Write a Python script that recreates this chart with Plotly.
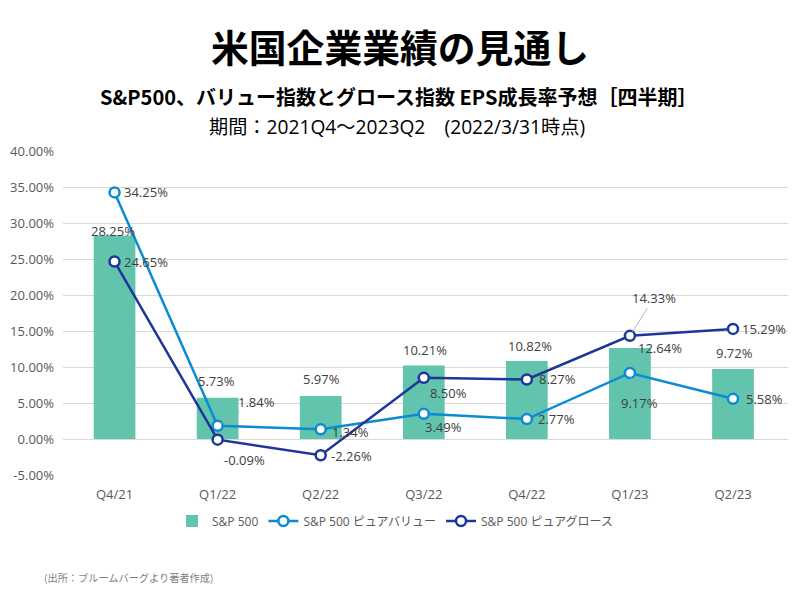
import plotly.graph_objects as go

categories = ["Q4/21", "Q1/22", "Q2/22", "Q3/22", "Q4/22", "Q1/23", "Q2/23"]
sp500 = [28.25, 5.73, 5.97, 10.21, 10.82, 12.64, 9.72]
pure_value = [34.25, 1.84, 1.34, 3.49, 2.77, 9.17, 5.58]
pure_growth = [24.65, -0.09, -2.26, 8.50, 8.27, 14.33, 15.29]
y_ticks = [-5, 0, 5, 10, 15, 20, 25, 30, 35, 40]

BAR_C = "#63C4AD"
VAL_C = "#0B8BD3"
GRO_C = "#1F3699"
CJK = "Noto Sans CJK JP"
FONT = "Open Sans, Noto Sans CJK JP"
LBL_C = "#404040"

# the page body has an 8px margin; figure is sized so it fits the 800x596 window
OFF = 8
W, H = 800 - 2 * OFF, 596 - 2 * OFF
# plot area in window pixels
PL, PR, PT, PB = 63, 788, 151, 475


def px_x(px):
    return (px - PL) / (PR - PL)


def px_y(py):
    return (PB - py) / (PB - PT)


fig = go.Figure()
fig.add_trace(go.Bar(x=categories, y=sp500, name="S&P 500", marker_color=BAR_C,
                     marker_line_width=0))
fig.add_trace(go.Scatter(x=categories, y=pure_value, name="S&P 500 ピュアバリュー",
                         mode="lines+markers", line=dict(color=VAL_C, width=2.5),
                         marker=dict(symbol="circle", size=10, color="white",
                                     line=dict(color=VAL_C, width=2.5))))
fig.add_trace(go.Scatter(x=categories, y=pure_growth, name="S&P 500 ピュアグロース",
                         mode="lines+markers", line=dict(color=GRO_C, width=2.5),
                         marker=dict(symbol="circle", size=10, color="white",
                                     line=dict(color=GRO_C, width=2.5))))


def lab(x, y, dx, dy):
    fig.add_annotation(x=x, y=y, xref="x", yref="y", text=f"{y:.2f}%",
                       showarrow=False, xshift=dx, yshift=dy,
                       font=dict(family=FONT, size=13, color=LBL_C))


def leader(x, y, ax, ay):
    fig.add_annotation(x=x, y=y, xref="x", yref="y", text=f"{y:.2f}%",
                       showarrow=True, arrowhead=0, arrowwidth=0.8, arrowcolor="#A6A6A6",
                       ax=ax, ay=ay, standoff=4,
                       font=dict(family=FONT, size=13, color=LBL_C))


# bar labels (dx, dy in px)
bar_off = [(-2, 5), (-1, 17), (1, 17), (1, 15), (3, 15), (30, 0), (1, 16)]
for c, v, (dx, dy) in zip(categories, sp500, bar_off):
    lab(c, v, dx, dy)

# value labels
val_off = {0: (31, 0), 2: (30, -3), 3: (20, -13), 4: (30, 0), 6: (31, 0)}
for i, (dx, dy) in val_off.items():
    lab(categories[i], pure_value[i], dx, dy)
leader(categories[1], pure_value[1], 39, -24)
leader(categories[5], pure_value[5], 10, 30)

# growth labels
gro_off = {0: (31, 0), 1: (27, -20), 2: (31, -1), 3: (25, -15), 4: (31, 0), 6: (31, 0)}
for i, (dx, dy) in gro_off.items():
    lab(categories[i], pure_growth[i], dx, dy)
leader(categories[5], pure_growth[5], 24, -38)

# titles
fig.add_annotation(text="<b>米国企業業績の見通し</b>", xref="paper", yref="paper",
                   x=px_x(400), y=px_y(45), showarrow=False, yanchor="middle",
                   font=dict(family=CJK, size=37.8, color="#000000"))
fig.add_annotation(text="<b>S&P500、バリュー指数とグロース指数 EPS成長率予想［四半期］</b>",
                   xref="paper", yref="paper", x=px_x(398), y=px_y(97), showarrow=False,
                   yanchor="middle", font=dict(family=CJK, size=20, color="#000000"))
fig.add_annotation(text="期間：2021Q4～2023Q2　(2022/3/31時点)",
                   xref="paper", yref="paper", x=px_x(397), y=px_y(126), showarrow=False,
                   yanchor="middle", font=dict(family=FONT, size=19.2, color="#000000"))
fig.add_annotation(text="(出所：ブルームバーグより著者作成)", xref="paper", yref="paper",
                   x=px_x(42), y=px_y(577), xanchor="left", yanchor="middle",
                   showarrow=False, font=dict(family=CJK, size=10.2, color="#7F7F7F"))

fig.update_layout(
    width=W, height=H,
    margin=dict(l=PL - OFF, r=W - (PR - OFF), t=PT - OFF, b=H - (PB - OFF), autoexpand=False),
    plot_bgcolor="white", paper_bgcolor="white",
    font=dict(family=FONT, size=13, color="#595959"),
    bargap=0.595,
    showlegend=True,
    legend=dict(orientation="h", x=px_x(395), xanchor="center", y=px_y(521),
                yanchor="middle",
                font=dict(family=FONT, size=12, color="#595959"),
                itemwidth=30, traceorder="normal"),
    xaxis=dict(showgrid=False, showline=False, ticks="", ticklabelstandoff=10,
               automargin=False, tickfont=dict(size=13, color="#595959")),
    yaxis=dict(range=[-5, 40], tickvals=y_ticks, ticktext=[f"{t:.2f}%" for t in y_ticks],
               gridcolor="#D9D9D9", gridwidth=1, zeroline=True, zerolinecolor="#D9D9D9",
               zerolinewidth=1, showline=False, ticks="", ticklen=0, ticklabelstandoff=8,
               automargin=False, tickfont=dict(size=13, color="#595959")),
)

fig.write_html("out.html")
